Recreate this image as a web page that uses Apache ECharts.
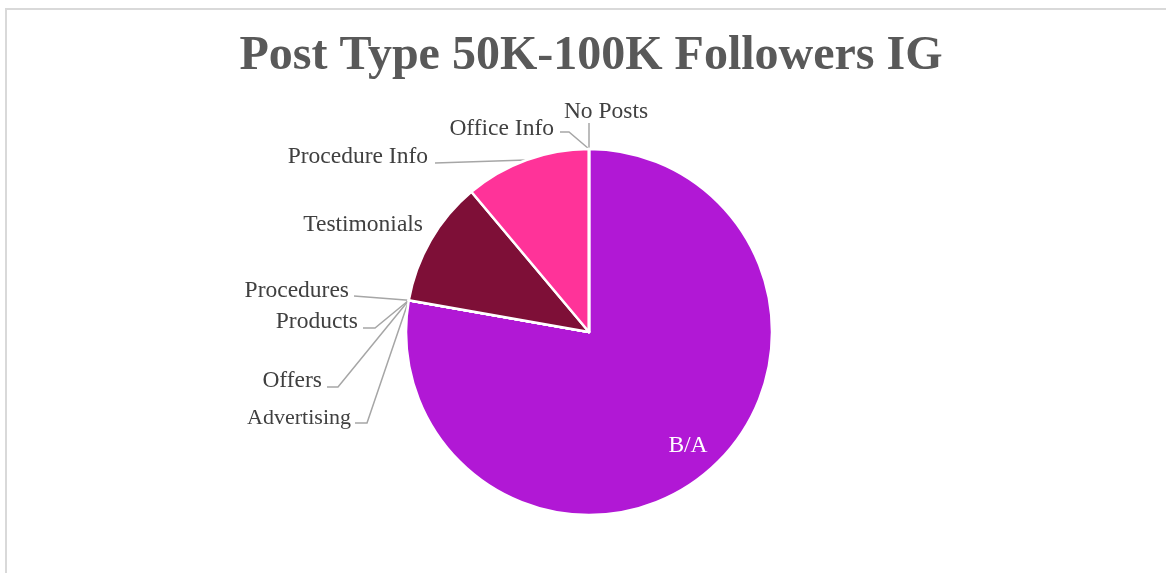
<!DOCTYPE html>
<html>
<head>
<meta charset="utf-8">
<script src="https://cdn.jsdelivr.net/npm/echarts@6/dist/echarts.min.js"></script>
<style>
  html, body { margin: 0; padding: 0; background: #ffffff; }
  #chart { width: 1166px; height: 573px; }
</style>
</head>
<body>
<div id="chart"></div>
<script>
// Post types, clockwise from 12 o'clock
const categories = ['B/A', 'Advertising', 'Offers', 'Products', 'Procedures',
                    'Testimonials', 'Procedure Info', 'Office Info', 'No Posts'];
const postCounts = [7, 0, 0, 0, 0, 1, 1, 0, 0];
const sliceColors = ['#B118D5', '#4472C4', '#ED7D31', '#A5A5A5', '#FFC000',
                     '#7E0F37', '#FF3399', '#70AD47', '#264478'];
const chartTitle = 'Post Type 50K-100K Followers IG';

// Where each label sits and the elbow points of its leader line
// (the leader always starts at the slice edge computed by the pie layout).
const labelSpots = {
  'B/A':            { x: 688, y: 446, align: 'center' },
  'Advertising':    { x: 351, y: 418, align: 'right',  leader: [[367, 423], [355, 423]] },
  'Offers':         { x: 322, y: 381, align: 'right',  leader: [[338, 387], [327, 387]] },
  'Products':       { x: 358, y: 322, align: 'right',  leader: [[375, 328], [363, 328]] },
  'Procedures':     { x: 349, y: 291, align: 'right',  leader: [[354, 296]] },
  'Testimonials':   { x: 423, y: 225, align: 'right',  leader: [] },
  'Procedure Info': { x: 428, y: 157, align: 'right',  leader: [[435, 163]] },
  'Office Info':    { x: 554, y: 129, align: 'right',  leader: [[569, 132], [560, 132]] },
  'No Posts':       { x: 606, y: 112, align: 'center', leader: [[589, 123]] }
};

const serif = '"Liberation Serif", "Times New Roman", "DejaVu Serif", serif';

const chart = echarts.init(document.getElementById('chart'), null, { renderer: 'canvas' });

const pieData = categories.map((name, i) => {
  const item = { name: name, value: postCounts[i], itemStyle: { color: sliceColors[i] } };
  if (name === 'B/A') {
    item.label = { position: 'inside', color: '#ffffff' };
    item.labelLine = { show: false };
  }
  if (name === 'Testimonials') {
    item.labelLine = { show: false };
  }
  if (name === 'Advertising') {
    item.label = { fontSize: 22 };
  }
  return item;
});

chart.setOption({
  animation: false,
  backgroundColor: '#ffffff',
  graphic: [{
    type: 'rect',
    silent: true,
    shape: { x: 6, y: 9, width: 1300, height: 700 },
    style: { fill: 'none', stroke: '#D9D9D9', lineWidth: 2 }
  }],
  title: {
    text: chartTitle,
    left: 586,
    top: 28,
    textAlign: 'center',
    textStyle: {
      fontFamily: serif,
      fontWeight: 'bold',
      fontSize: 48,
      color: '#595959'
    }
  },
  series: [{
    type: 'pie',
    center: [589, 332],
    radius: 183,
    startAngle: 90,
    clockwise: true,
    avoidLabelOverlap: false,
    minShowLabelAngle: 0,
    emphasis: { disabled: true },
    itemStyle: { borderColor: '#ffffff', borderWidth: 2.5 },
    label: {
      show: true,
      position: 'outside',
      formatter: '{b}',
      fontFamily: serif,
      fontSize: 23.5,
      color: '#404040'
    },
    labelLine: {
      show: true,
      smooth: false,
      lineStyle: { color: '#A6A6A6', width: 1.5 }
    },
    labelLayout: function (params) {
      const name = categories[params.dataIndex];
      const spot = labelSpots[name];
      if (!spot) return {};
      const out = { x: spot.x, y: spot.y, align: spot.align, verticalAlign: 'middle' };
      if (spot.leader && spot.leader.length && params.labelLinePoints) {
        out.labelLinePoints = [params.labelLinePoints[0]].concat(spot.leader);
      }
      return out;
    },
    data: pieData
  }]
});
</script>
</body>
</html>
